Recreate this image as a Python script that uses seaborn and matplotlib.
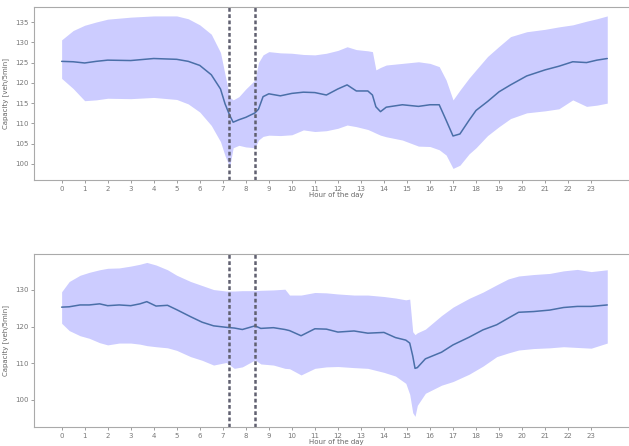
import numpy as np
import pandas as pd
import seaborn as sns
import matplotlib
matplotlib.use("Agg")
import matplotlib.pyplot as plt

# top panel: capacity per hour (mean and band)
hours_a = [0, 0.5, 1, 1.5, 2, 3, 4, 5, 5.5, 6, 6.5, 6.9, 7.1, 7.3, 7.45, 7.7, 8.0, 8.4, 8.55,
           8.75, 9.0, 9.5, 10, 10.5, 11, 11.5, 12, 12.4, 12.8, 13.3, 13.5, 13.65, 13.85, 14.1,
           14.8, 15.5, 16.0, 16.4, 16.7, 17.0, 17.3, 17.7, 18.0, 18.5, 19.0, 19.5, 20.2, 21.0,
           21.6, 22.2, 22.8, 23.25, 23.7]
mean_a = [125.3, 125.2, 124.9, 125.3, 125.6, 125.5, 126.0, 125.8, 125.3, 124.3, 122.0, 118.5,
          114.8, 112.0, 110.3, 110.9, 111.5, 112.6, 113.5, 116.6, 117.3, 116.8, 117.4, 117.7,
          117.6, 117.0, 118.5, 119.5, 118.0, 118.0, 117.0, 114.1, 112.9, 114.0, 114.6, 114.2,
          114.6, 114.6, 110.8, 106.9, 107.4, 110.8, 113.2, 115.4, 117.8, 119.5, 121.7, 123.2,
          124.1, 125.2, 125.0, 125.6, 126.0]
upper_a = [130.6, 132.9, 134.2, 135.0, 135.7, 136.2, 136.5, 136.5, 135.8, 134.3, 132.0, 127.5,
           122.0, 116.5, 115.8, 116.6, 118.5, 120.7, 125.0, 126.9, 127.7, 127.4, 127.3, 127.0,
           126.9, 127.3, 128.0, 128.9, 128.2, 127.9, 127.7, 123.2, 123.8, 124.4, 124.8, 125.2,
           124.8, 124.0, 120.7, 115.8, 118.2, 121.2, 123.2, 126.5, 129.0, 131.4, 132.6, 133.2,
           133.8, 134.3, 135.2, 135.8, 136.5]
lower_a = [121.1, 118.6, 115.6, 115.8, 116.2, 116.1, 116.4, 115.9, 114.8, 112.8, 109.5, 105.5,
           102.0, 99.3, 104.0, 104.6, 104.2, 104.0, 105.9, 106.8, 107.1, 107.0, 107.2, 108.4,
           108.0, 108.2, 108.8, 109.6, 109.2, 108.5, 108.0, 107.6, 107.1, 106.7, 105.9, 104.4,
           104.3, 103.5, 102.2, 98.9, 99.7, 102.5, 104.0, 107.0, 109.2, 111.2, 112.6, 113.1,
           113.6, 115.8, 114.2, 114.5, 115.0]

# bottom panel
hours_b = [0, 0.33, 0.8, 1.2, 1.65, 2.0, 2.5, 3.0, 3.4, 3.7, 4.1, 4.6, 5.0, 5.6, 6.1, 6.6, 7.15,
           7.5, 7.85, 8.4, 8.65, 9.2, 9.7, 9.9, 10.4, 11.0, 11.5, 12.0, 12.7, 13.3, 14.0, 14.5,
           14.95, 15.12, 15.25, 15.35, 15.45, 15.8, 16.5, 17.0, 17.7, 18.3, 18.9, 19.4, 19.85,
           20.5, 21.2, 21.8, 22.4, 23.0, 23.7]
mean_b = [125.3, 125.4, 125.9, 125.9, 126.2, 125.7, 125.9, 125.7, 126.2, 126.8, 125.6, 125.8,
          124.6, 122.7, 121.2, 120.2, 119.8, 119.6, 119.2, 120.2, 119.5, 119.7, 119.2, 118.9,
          117.5, 119.4, 119.3, 118.5, 118.8, 118.2, 118.4, 117.0, 116.3, 115.5, 112.0, 108.6,
          108.8, 111.2, 113.0, 115.0, 117.1, 119.1, 120.5, 122.3, 123.9, 124.1, 124.5, 125.2,
          125.5, 125.5, 125.9]
upper_b = [129.5, 132.3, 134.0, 134.8, 135.5, 135.9, 136.0, 136.5, 137.0, 137.5, 136.8, 135.5,
           134.0, 132.3, 131.2, 130.1, 129.7, 129.7, 129.8, 129.8, 129.9, 130.0, 130.2, 128.6,
           128.6, 129.3, 129.2, 128.9, 128.6, 128.6, 128.2, 127.8, 127.3, 127.5, 118.6, 117.8,
           118.3, 119.3, 123.0, 125.3, 127.7, 129.4, 131.4, 133.0, 133.8, 134.2, 134.5, 135.2,
           135.6, 135.0, 135.5]
lower_b = [120.9, 118.9, 117.5, 116.8, 115.6, 115.0, 115.5, 115.5, 115.2, 114.8, 114.5, 114.2,
           113.5, 111.8, 110.8, 109.5, 110.2, 108.6, 109.0, 110.9, 109.8, 109.5, 108.6, 108.5,
           106.8, 108.6, 109.0, 109.1, 108.8, 108.6, 107.5, 106.5, 104.5, 101.5, 96.5, 95.5,
           98.5, 101.8, 104.0, 105.0, 107.0, 109.2, 111.8, 112.8, 113.6, 114.0, 114.2, 114.5,
           114.3, 114.1, 115.5]

peak_start, peak_end = 7.25, 8.42
yticks_a = [100, 105, 110, 115, 120, 125, 130, 135]
yticks_b = [100, 110, 120, 130]

sns.set_style("white")
plt.rcParams['font.family'] = ['DejaVu Sans']

fig = plt.figure(figsize=(6.29, 4.46), dpi=100)
ax1 = fig.add_axes([34 / 629, 266 / 446, 605.5 / 629, 173 / 446])
ax2 = fig.add_axes([34 / 629, 19 / 446, 605.5 / 629, 173 / 446])

panels = [(ax1, hours_a, mean_a, upper_a, lower_a, yticks_a, (96.05, 138.7)),
          (ax2, hours_b, mean_b, upper_b, lower_b, yticks_b, (92.6, 139.8))]

for ax, hrs, mu, up, lo, yt, ylim in panels:
    df = pd.DataFrame({'hour': hrs, 'cap': mu})
    ax.fill_between(hrs, lo, up, color='blue', alpha=0.2, linewidth=0)
    sns.lineplot(data=df, x='hour', y='cap', ax=ax, color='#4a6fa8', linewidth=1.1)
    for h in (peak_start, peak_end):
        ax.axvline(h, color='#606070', linestyle=(0, (1.5, 1)), linewidth=1.8)
    ax.set_xlim(-1.2, 25.1)
    ax.set_ylim(*ylim)
    ax.set_xticks(range(24))
    ax.set_yticks(yt)
    ax.tick_params(labelsize=5, colors='#777777', length=2, width=0.5, direction='out',
                   bottom=True, left=True, pad=2)
    ax.set_xlabel('Hour of the day', fontsize=5, color='#666666', labelpad=0.5)
    ax.set_ylabel('Capacity [veh/5min]', fontsize=5, color='#666666', labelpad=4)
    for s in ax.spines.values():
        s.set_color('#aaaaaa')
        s.set_linewidth(0.8)

plt.savefig('out.png', dpi=100)
